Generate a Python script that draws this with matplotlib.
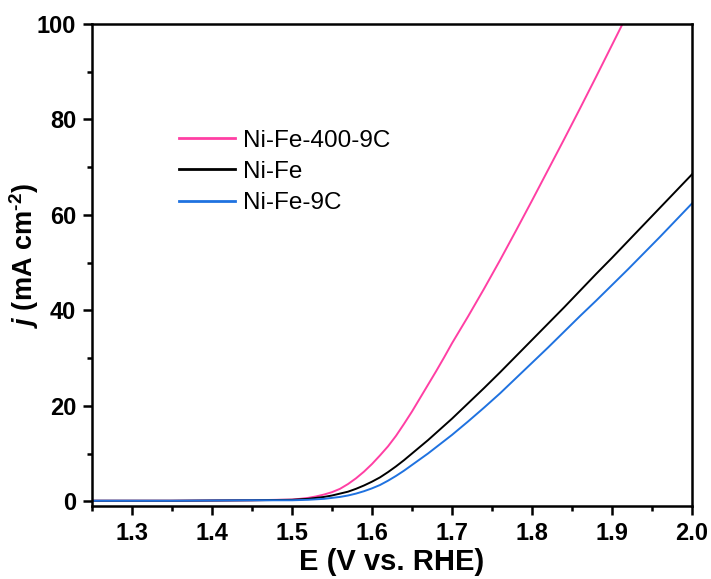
import matplotlib
matplotlib.use("Agg")
import matplotlib.pyplot as plt
from matplotlib.ticker import MultipleLocator, FormatStrFormatter

plt.rcParams['font.family'] = ['Liberation Sans', 'DejaVu Sans']
plt.rcParams['mathtext.fontset'] = 'custom'
plt.rcParams['mathtext.rm'] = 'Liberation Sans:bold'
plt.rcParams['mathtext.it'] = 'Liberation Sans:bold:italic'
plt.rcParams['mathtext.bf'] = 'Liberation Sans:bold'

# Potential (V vs. RHE)
E = [1.25, 1.30, 1.35, 1.40, 1.45, 1.50, 1.51, 1.52, 1.53, 1.54, 1.55, 1.56,
     1.57, 1.58, 1.59, 1.60, 1.61, 1.62, 1.63, 1.64, 1.65, 1.66, 1.67, 1.68,
     1.69, 1.70, 1.72, 1.74, 1.76, 1.78, 1.80, 1.82, 1.84, 1.86, 1.88, 1.90,
     1.92, 1.94, 1.96, 1.98, 2.00]

j_nife_400_9c = [0.1, 0.1, 0.1, 0.15, 0.2, 0.35, 0.5, 0.7, 1.0, 1.4, 1.9, 2.6,
                 3.6, 4.8, 6.2, 7.8, 9.6, 11.5, 13.7, 16.2, 18.8, 21.6, 24.4, 27.2,
                 30.1, 33.1, 38.7, 44.5, 50.5, 56.7, 63.0, 69.4, 75.8, 82.3, 88.9, 95.6,
                 102.3, None, None, None, None]
j_nife = [0.1, 0.1, 0.1, 0.15, 0.2, 0.3, 0.4, 0.5, 0.7, 0.9, 1.2, 1.6,
          2.0, 2.6, 3.3, 4.1, 5.0, 6.1, 7.3, 8.6, 10.0, 11.4, 12.8, 14.3,
          15.8, 17.3, 20.5, 23.7, 27.0, 30.4, 33.8, 37.2, 40.6, 44.1, 47.6, 51.0,
          54.5, 58.0, 61.5, 65.0, 68.5]
j_nife_9c = [0.1, 0.1, 0.1, 0.15, 0.2, 0.2, 0.25, 0.3, 0.4, 0.5, 0.7, 0.9,
             1.2, 1.6, 2.1, 2.7, 3.4, 4.3, 5.3, 6.4, 7.6, 8.8, 10.0, 11.3,
             12.6, 13.9, 16.7, 19.6, 22.6, 25.8, 29.0, 32.2, 35.5, 38.8, 42.0, 45.3,
             48.6, 52.0, 55.4, 58.9, 62.4]

labels = ["Ni-Fe-400-9C", "Ni-Fe", "Ni-Fe-9C"]
colors = ["#FF3FA4", "#000000", "#1F72E0"]

fig = plt.figure(figsize=(7.11, 5.79), dpi=100)
ax = fig.add_axes([92/711, 73/579, 600/711, 482/579])

series = [j_nife_400_9c, j_nife, j_nife_9c]
for ys, lab, c in zip(series, labels, colors):
    xs = [x for x, y in zip(E, ys) if y is not None]
    yv = [y for y in ys if y is not None]
    ax.plot(xs, yv, color=c, lw=1.4, label=lab)

ax.set_xlim(1.25, 2.0)
ax.set_ylim(-1, 100)
ax.xaxis.set_major_locator(MultipleLocator(0.1))
ax.xaxis.set_minor_locator(MultipleLocator(0.05))
ax.xaxis.set_major_formatter(FormatStrFormatter('%.1f'))
ax.yaxis.set_major_locator(MultipleLocator(20))
ax.yaxis.set_minor_locator(MultipleLocator(10))

for s in ax.spines.values():
    s.set_linewidth(1.8)
ax.tick_params(which='major', direction='out', length=6.5, width=1.8,
               labelsize=17, pad=5)
ax.tick_params(which='minor', direction='out', length=3.6, width=1.8)
for t in ax.get_xticklabels() + ax.get_yticklabels():
    t.set_fontweight('bold')

ax.set_xlabel("E (V vs. RHE)", fontsize=21, fontweight='bold', labelpad=2)
ax.set_ylabel(r"$j$ (mA cm$^{\text{-2}}$)", fontsize=19.5, fontweight='bold')
ax.yaxis.set_label_coords(-0.085, 0.52)

leg = ax.legend(loc='center left', bbox_to_anchor=(0.145, 0.693), frameon=False,
                fontsize=17.5, handlelength=2.3, handletextpad=0.35,
                labelspacing=0.38, borderpad=0, borderaxespad=0)
for line in leg.get_lines():
    line.set_linewidth(2.0)

fig.savefig("out.png", dpi=100)
